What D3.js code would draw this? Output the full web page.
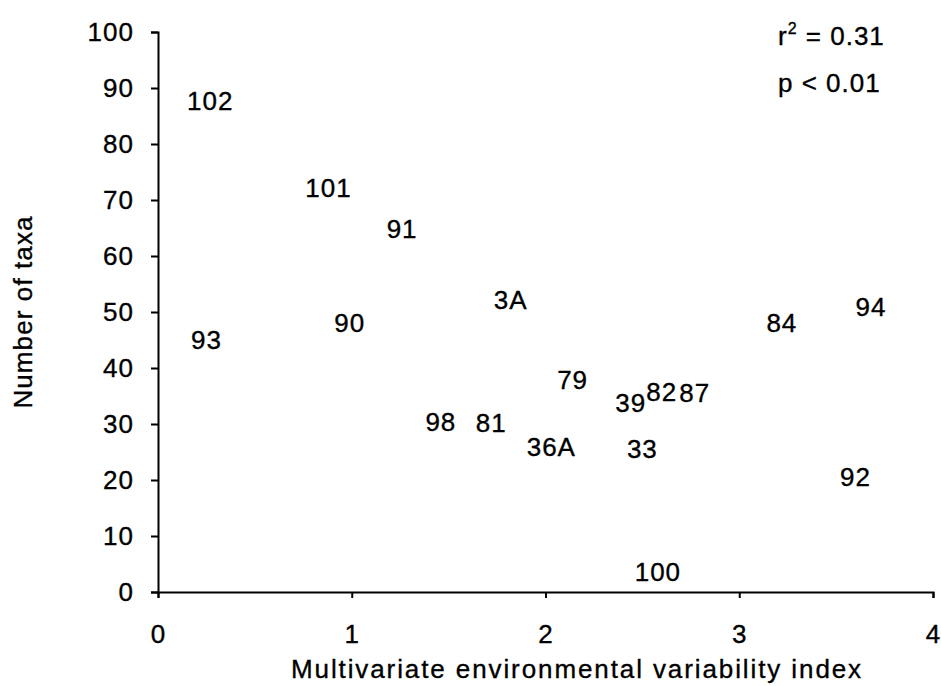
<!DOCTYPE html>
<html>
<head>
<meta charset="utf-8">
<script src="https://cdn.jsdelivr.net/npm/d3@7"></script>
<style>
  body { margin: 0; background: #fff; }
  text { font-family: "Liberation Sans", Arial, sans-serif; fill: #000; stroke: #000; stroke-width: 0.35px; }
</style>
</head>
<body>
<script>
// site labels with their (index, taxa) positions
let sites = ["102", "101", "91", "90", "93", "3A", "79", "39", "82", "87", "98", "81", "36A", "33", "84", "94", "92", "100"]
let variability = [0.27, 0.88, 1.26, 0.99, 0.25, 1.82, 2.14, 2.44, 2.60, 2.77, 1.46, 1.72, 2.03, 2.50, 3.22, 3.68, 3.60, 2.58]
let taxa = [87.7, 72.1, 64.8, 48.0, 45.0, 52.1, 37.9, 33.8, 35.7, 35.5, 30.4, 30.2, 25.9, 25.5, 48.0, 50.9, 20.5, 3.6]

let xTicks = [0, 1, 2, 3, 4]
let yTicks = [0, 10, 20, 30, 40, 50, 60, 70, 80, 90, 100]

let width = 941
let height = 686

let svg = d3.select("body")
            .append("svg")
            .attr("width", width)
            .attr("height", height)

let xScale = d3.scaleLinear()
               .domain([0, 4])
               .range([158, 933])

let yScale = d3.scaleLinear()
               .domain([0, 100])
               .range([592, 32])

let xAxis = d3.axisBottom(xScale)
              .tickValues(xTicks)
              .tickFormat(d3.format("d"))
              .tickSize(6)
              .tickPadding(27)

let yAxis = d3.axisLeft(yScale)
              .tickValues(yTicks)
              .tickSize(7)
              .tickPadding(17)

let gx = svg.append("g")
            .attr("transform", "translate(0," + yScale(0) + ")")
            .call(xAxis)

let gy = svg.append("g")
            .attr("transform", "translate(" + xScale(0) + ",0)")
            .call(yAxis)

for (let g of [gx, gy]) {
    g.select(".domain").attr("stroke", "#000").attr("stroke-width", 2)
    g.selectAll(".tick line").attr("stroke", "#000").attr("stroke-width", 2)
    g.selectAll(".tick text")
        .attr("font-size", 26)
        .attr("letter-spacing", 1)
        .attr("fill", "#000")
        .style("font-family", "'Liberation Sans', Arial, sans-serif")
}

// axis titles
svg.append("text")
    .attr("x", 577)
    .attr("y", 678)
    .attr("text-anchor", "middle")
    .attr("font-size", 26)
    .attr("letter-spacing", 1.9)
    .text("Multivariate environmental variability index")

svg.append("text")
    .attr("transform", "translate(32," + yScale(50) + ") rotate(-90)")
    .attr("text-anchor", "middle")
    .attr("font-size", 26)
    .attr("letter-spacing", 1.1)
    .text("Number of taxa")

// site labels drawn as the points
svg.selectAll(".site")
    .data(sites)
    .enter()
    .append("text")
    .attr("class", "site")
    .attr("x", (d, i) => xScale(variability[i]))
    .attr("y", (d, i) => yScale(taxa[i]))
    .attr("dy", "0.35em")
    .attr("text-anchor", "middle")
    .attr("font-size", 26)
    .attr("letter-spacing", 1)
    .text((d) => d)

// stats
let r2 = svg.append("text")
            .attr("x", 778)
            .attr("y", 45)
            .attr("font-size", 26)
            .attr("letter-spacing", 1)
r2.append("tspan").text("r")
r2.append("tspan").attr("font-size", 16).attr("dy", -11).text("2")
r2.append("tspan").attr("dy", 11).text(" = 0.31")

svg.append("text")
    .attr("x", 778)
    .attr("y", 92)
    .attr("font-size", 26)
    .attr("letter-spacing", 1)
    .text("p < 0.01")
</script>
</body>
</html>
